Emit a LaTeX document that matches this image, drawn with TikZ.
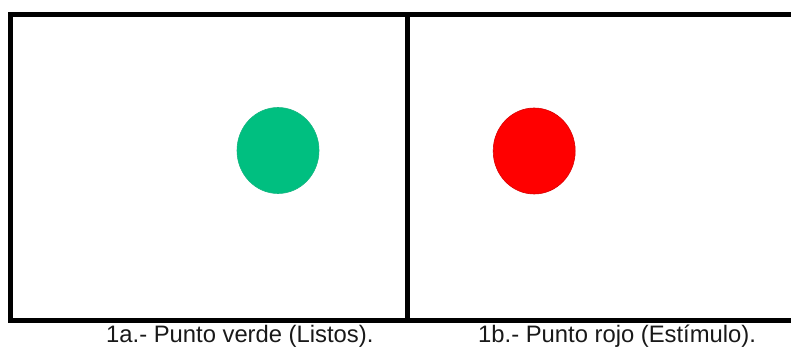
\documentclass[tikz,border=0pt]{standalone}
\usepackage{fontspec}
\setmainfont{Liberation Sans}
\usetikzlibrary{shapes.geometric}
\definecolor{dotgreen}{RGB}{0,191,128}
\definecolor{dotred}{RGB}{255,0,0}
\tikzset{
  framebar/.style={fill=black,draw=none},
  caption/.style={anchor=base west,inner sep=0pt,font=\fontsize{23.8}{28}\selectfont,text=black!90},
  dotshape/.style={ellipse,minimum width=82pt,minimum height=86pt,inner sep=0pt}
}
\begin{document}
\begin{tikzpicture}[x=1pt,y=-1pt]
\useasboundingbox[fill=white] (0,0) rectangle (791,347);
\fill[framebar] (8,12) rectangle (791,17);
\fill[framebar] (8,318) rectangle (791,323);
\fill[framebar] (8,12) rectangle (13,323);
\fill[framebar] (405,12) rectangle (410,323);
\node[dotshape,fill=dotgreen,draw=dotgreen!85!gray,line width=.6pt] (green) at (278,150.5) {};
\node[dotshape,fill=dotred,draw=dotred!85!black,line width=.6pt] (red) at (534.2,151) {};
\node[caption] (capa) at (106,342.5) {1a.- Punto verde (Listos).};
\node[caption] (capb) at (478,342.5) {1b.- Punto rojo (Estímulo).};
\end{tikzpicture}
\end{document}
